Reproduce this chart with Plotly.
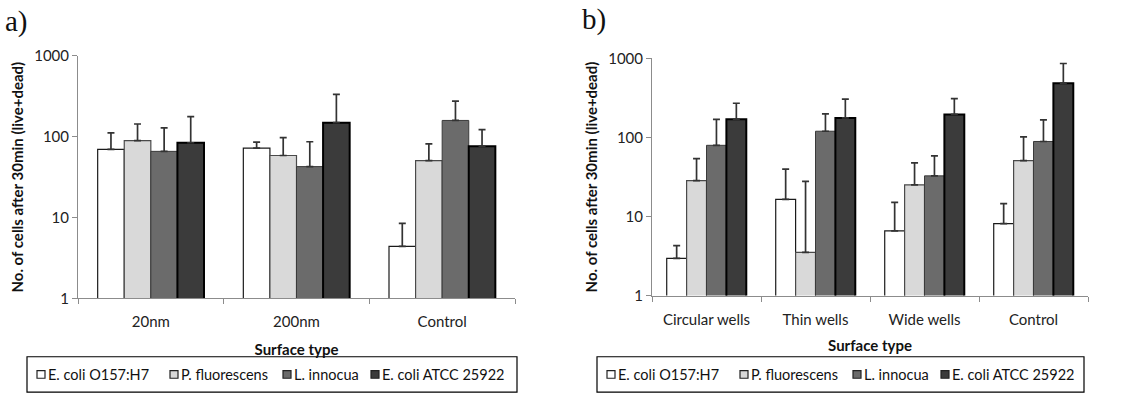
import plotly.graph_objects as go

W, H = 1122, 402

cats_a = ["20nm", "200nm", "Control"]
cats_b = ["Circular wells", "Thin wells", "Wide wells", "Control"]
series_names = ["E. coli O157:H7", "P. fluorescens", "L. innocua", "E. coli ATCC 25922"]

# Panel a) means and upper error amounts
a_o157 = [69.6, 72.2, 4.4]
a_o157_err = [42, 13.5, 4.1]
a_pfluo = [89.7, 58.6, 50.7]
a_pfluo_err = [54, 39, 31]
a_linn = [65.9, 42.7, 159]
a_linn_err = [63, 44, 117]
a_atcc = [84.2, 149, 76.2]
a_atcc_err = [93, 185, 46]

# Panel b) means and upper error amounts
b_o157 = [2.96, 16.5, 6.57, 8.13]
b_o157_err = [1.33, 23.2, 8.5, 6.4]
b_pfluo = [28.4, 3.53, 25.2, 51]
b_pfluo_err = [25.5, 24.4, 22.6, 51]
b_linn = [79.6, 120, 32.7, 89]
b_linn_err = [90, 79, 26, 78]
b_atcc = [170, 177, 196, 486]
b_atcc_err = [101, 128, 115, 377]

y_ticks = [1, 10, 100, 1000]
y_ticktext = ["1", "10", "100", "1000"]

fills = ["#ffffff", "#d9d9d9", "#6b6b6b", "#3b3b3b"]
edges = ["#1a1a1a", "#4a4a4a", "#3a3a3a", "#000000"]
edge_w = [1.2, 1.2, 1.0, 2.0]

FONT = "Lato, 'Open Sans', sans-serif"

fig = go.Figure()

panel_a = [(a_o157, a_o157_err), (a_pfluo, a_pfluo_err), (a_linn, a_linn_err), (a_atcc, a_atcc_err)]
panel_b = [(b_o157, b_o157_err), (b_pfluo, b_pfluo_err), (b_linn, b_linn_err), (b_atcc, b_atcc_err)]

for i, (vals, errs) in enumerate(panel_a):
    fig.add_trace(go.Bar(
        x=cats_a, y=vals, name=series_names[i], showlegend=False,
        marker=dict(color=fills[i], line=dict(color=edges[i], width=edge_w[i])),
        error_y=dict(type="data", symmetric=False, array=errs, arrayminus=[0] * len(errs),
                     color="#333333", thickness=1.7, width=3.5),
        xaxis="x", yaxis="y",
    ))

for i, (vals, errs) in enumerate(panel_b):
    fig.add_trace(go.Bar(
        x=cats_b, y=vals, name=series_names[i], showlegend=False,
        marker=dict(color=fills[i], line=dict(color=edges[i], width=edge_w[i])),
        error_y=dict(type="data", symmetric=False, array=errs, arrayminus=[0] * len(errs),
                     color="#333333", thickness=1.7, width=3.5),
        xaxis="x2", yaxis="y2",
    ))

axis_line = "#8c8c8c"
tick_font = dict(family=FONT, size=15, color="#222222")
ytitle_font = dict(family=FONT, size=15, color="#111111")
xtitle_font = dict(family=FONT, size=15, color="#111111")
ytitle = "<b>No. of cells after 30min (live+dead)</b>"

common_x = dict(type="category", showline=True, linecolor=axis_line, linewidth=1,
                ticks="outside", tickson="boundaries", ticklen=5, tickcolor=axis_line,
                showgrid=False, tickfont=tick_font, zeroline=False, ticklabelstandoff=10)
common_y = dict(type="log", range=[0, 3], tickvals=y_ticks, ticktext=y_ticktext,
                showline=True, linecolor=axis_line, linewidth=1, ticks="outside",
                ticklen=5, tickcolor=axis_line, showgrid=False, tickfont=tick_font,
                zeroline=False)

# ---- manual legend boxes (square swatch + label per series) ----
leg_font = dict(family=FONT, size=14.5, color="#111111")
sq = 8
sw_off = [10, 143, 256, 344]      # swatch left offsets inside the box (px)
leg_boxes = [(27, 517), (597, 1084)]
leg_top, leg_bot = 363, 400
leg_mid = (leg_top + leg_bot) / 2

shapes = []
annotations = []
for bx0, bx1 in leg_boxes:
    shapes.append(dict(type="rect", xref="paper", yref="paper",
                       x0=bx0 / W, x1=bx1 / W, y0=1 - leg_bot / H, y1=1 - leg_top / H,
                       line=dict(color="#000000", width=1.2), fillcolor="white", layer="below"))
    for i, name in enumerate(series_names):
        sx = bx0 + sw_off[i]
        shapes.append(dict(type="rect", xref="paper", yref="paper",
                           x0=sx / W, x1=(sx + sq) / W,
                           y0=1 - (leg_mid + sq / 2) / H, y1=1 - (leg_mid - sq / 2) / H,
                           line=dict(color="#222222", width=1.2), fillcolor=fills[i]))
        annotations.append(dict(text=name, x=(sx + sq + 1) / W, y=1 - leg_mid / H,
                                xref="paper", yref="paper", xanchor="left", yanchor="middle",
                                showarrow=False, font=leg_font))

annotations += [
    dict(text="a)", x=3 / W, y=1 - 12 / H, xref="paper", yref="paper",
         xanchor="left", yanchor="middle", showarrow=False,
         font=dict(family="Liberation Serif, serif", size=29, color="#111111")),
    dict(text="b)", x=580 / W, y=1 - 10 / H, xref="paper", yref="paper",
         xanchor="left", yanchor="middle", showarrow=False,
         font=dict(family="Liberation Serif, serif", size=29, color="#111111")),
]

fig.update_layout(
    width=W, height=H,
    margin=dict(l=0, r=0, t=0, b=0),
    paper_bgcolor="white", plot_bgcolor="white",
    barmode="group", bargap=0.27, bargroupgap=0.0,
    font=dict(family=FONT, color="#222222"),
    showlegend=False,
    xaxis=dict(domain=[78 / W, 515 / W], anchor="y",
               title=dict(text="<b>Surface type</b>", font=xtitle_font, standoff=15),
               **common_x),
    yaxis=dict(domain=[1 - 302 / H, 1 - 48 / H], anchor="x",
               title=dict(text=ytitle, font=ytitle_font, standoff=6), **common_y),
    xaxis2=dict(domain=[652 / W, 1088 / W], anchor="y2",
                title=dict(text="<b>Surface type</b>", font=xtitle_font, standoff=13),
                **common_x),
    yaxis2=dict(domain=[1 - 299 / H, 1 - 50.7 / H], anchor="x2",
                title=dict(text=ytitle, font=ytitle_font, standoff=6), **common_y),
    shapes=shapes,
    annotations=annotations,
)

fig.write_html("out.html")
